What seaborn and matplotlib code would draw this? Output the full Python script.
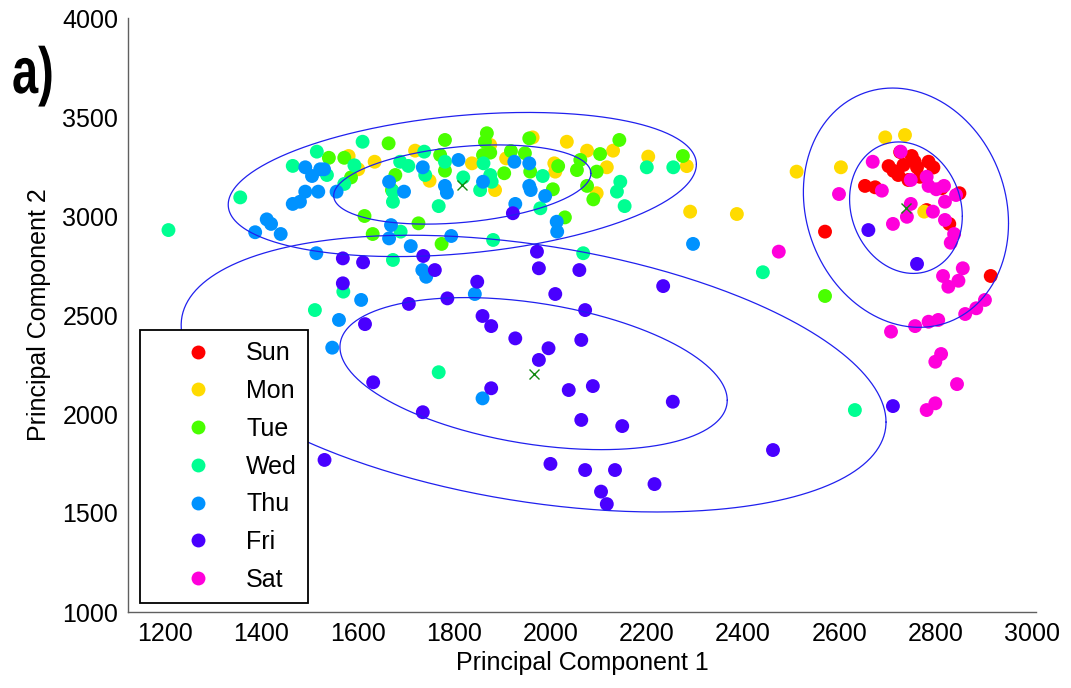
import numpy as np
import pandas as pd
import matplotlib
matplotlib.use("Agg")
import matplotlib.pyplot as plt
from matplotlib.lines import Line2D
from matplotlib import patheffects
from matplotlib.transforms import Affine2D
import seaborn as sns

# ---------------- data ----------------
days = ["Sun", "Mon", "Tue", "Wed", "Thu", "Fri", "Sat"]

sun_pc1 = [2702, 2722, 2750, 2785, 2761, 2733, 2767, 2743, 2726, 2712, 2795, 2756,
           2653, 2674, 2849, 2828, 2570, 2914, 2781, 2812]
sun_pc2 = [3252, 3207, 3303, 3274, 3246, 3258, 3198, 3182, 3323, 3228, 3245, 3275,
           3152, 3145, 3115, 2960, 2921, 2697, 3030, 3140]

mon_pc1 = [1581, 1601, 1635, 1719, 1749, 1837, 1875, 1885, 1908, 1963, 2008, 2010, 2034,
           2076, 2117, 2130, 2096, 2203, 2283, 2290, 2387, 2511, 2603, 2695, 2736, 2776]
mon_pc2 = [3303, 3236, 3274, 3330, 3178, 3266, 3359, 3131, 3291, 3397, 3266, 3224, 3375,
           3330, 3246, 3330, 3115, 3300, 3252, 3022, 3010, 3224, 3246, 3397, 3409, 3022]

tue_pc1 = [1540, 1572, 1586, 1664, 1678, 1671, 1781, 1771, 1781, 1868, 1864, 1860, 1875,
           1904, 1918, 1947, 1956, 1958, 2016, 2005, 2055, 2062, 2096, 2103, 2076, 2089,
           2143, 2275, 1614, 2030, 1631, 1726, 1774, 2570]
tue_pc2 = [3294, 3294, 3195, 3367, 3207, 3131, 3384, 3308, 3229, 3418, 3375, 3308, 3320,
           3216, 3328, 3317, 3392, 3224, 3252, 3135, 3232, 3283, 3224, 3313, 3152, 3084,
           3384, 3303, 3000, 2993, 2909, 2963, 2859, 2596]

wed_pc1 = [1356, 1465, 1515, 1610, 1536, 1572, 1593, 1688, 1705, 1738, 1740, 1781, 1673,
           1673, 1768, 1819, 1854, 1861, 1875, 1878, 1984, 1979, 2145, 2138, 2154, 2200,
           2255, 2441, 1207, 1689, 1881, 1673, 2068, 1570, 1511, 1768, 2632]
wed_pc2 = [3094, 3253, 3325, 3375, 3207, 3162, 3256, 3274, 3253, 3325, 3207, 3274, 3072,
           3123, 3050, 3195, 3131, 3266, 3207, 3173, 3202, 3039, 3173, 3123, 3050, 3246,
           3246, 2716, 2929, 2921, 2879, 2778, 2812, 2618, 2525, 2211, 2020]

thu_pc1 = [1465, 1480, 1491, 1518, 1491, 1505, 1522, 1530, 1556, 1665, 1696, 1735, 1809,
           1781, 1785, 1860, 1925, 1956, 1956, 1959, 1989, 1927, 1411, 1387, 1420, 1440,
           1514, 1665, 1669, 1710, 1794, 1734, 1742, 1843, 1607, 1561, 1547, 1859, 2014,
           2013, 2296]
thu_pc2 = [3061, 3072, 3123, 3123, 3246, 3202, 3236, 3236, 3123, 3173, 3123, 3246, 3283,
           3152, 3118, 3173, 3274, 3266, 3152, 3131, 3101, 3061, 2983, 2918, 2960, 2909,
           2812, 2887, 2954, 2848, 2899, 2727, 2693, 2606, 2576, 2475, 2335, 2079, 2921,
           2971, 2859]

fri_pc1 = [1922, 1569, 1611, 1736, 1760, 1569, 1972, 1976, 2060, 1848, 2010, 2234, 1706,
           1786, 1615, 1859, 1877, 1927, 2072, 2064, 1996, 1976, 1632, 1877, 2038, 2088,
           2254, 2064, 2149, 1735, 1531, 2000, 2072, 2134, 2216, 2105, 2117, 2462, 2711,
           2660, 2761]
fri_pc2 = [3014, 2786, 2766, 2798, 2727, 2660, 2820, 2736, 2727, 2668, 2606, 2646, 2556,
           2584, 2454, 2495, 2444, 2382, 2525, 2374, 2332, 2273, 2160, 2130, 2121, 2141,
           2062, 1970, 1939, 2009, 1768, 1748, 1717, 1717, 1646, 1608, 1545, 1818, 2040,
           2929, 2758]

sat_pc1 = [2669, 2727, 2599, 2474, 2688, 2748, 2781, 2785, 2801, 2817, 2842, 2819, 2748,
           2740, 2711, 2794, 2819, 2838, 2831, 2815, 2856, 2847, 2826, 2902, 2884, 2861,
           2805, 2785, 2757, 2707, 2811, 2799, 2844, 2799, 2781]
sat_pc2 = [3274, 3325, 3111, 2820, 3128, 3182, 3198, 3152, 3135, 3152, 3106, 3072, 3061,
           2996, 2960, 3022, 2980, 2909, 2865, 2697, 2736, 2673, 2643, 2576, 2534, 2505,
           2475, 2466, 2444, 2416, 2303, 2264, 2151, 2054, 2020]

# cluster ellipses (centre, std-like half axes, correlation) and drawn scales
ell_cx = [1817, 1965, 2738]
ell_cy = [3159, 2204, 3042]
ell_sx = [267, 402, 117]
ell_sy = [200, 384, 332]
ell_rho = [0.28, -0.35, -0.13]
ell_scales = [1.0, 1.82]

x_ticks = [1200, 1400, 1600, 1800, 2000, 2200, 2400, 2600, 2800, 3000]
y_ticks = [1000, 1500, 2000, 2500, 3000, 3500, 4000]

# ---------------- frame ----------------
pc1_all = [sun_pc1, mon_pc1, tue_pc1, wed_pc1, thu_pc1, fri_pc1, sat_pc1]
pc2_all = [sun_pc2, mon_pc2, tue_pc2, wed_pc2, thu_pc2, fri_pc2, sat_pc2]
df = pd.concat([pd.DataFrame({"PC1": a, "PC2": b, "Day": d})
                for a, b, d in zip(pc1_all, pc2_all, days)], ignore_index=True)

sns.set_style("white")
plt.rcParams["font.family"] = ["Liberation Sans", "DejaVu Sans"]
plt.rcParams["text.color"] = "black"
plt.rcParams["axes.labelcolor"] = "black"
plt.rcParams["xtick.color"] = "black"
plt.rcParams["ytick.color"] = "black"

palette = [matplotlib.colors.hsv_to_rgb((i / 7.0, 1.0, 1.0)) for i in range(7)]
pal = dict(zip(days, palette))

fig = plt.figure(figsize=(10.71, 6.88), dpi=100)
ax = fig.add_axes([128 / 1071, 76 / 688, 908 / 1071, 594 / 688])

sns.scatterplot(data=df, x="PC1", y="PC2", hue="Day", hue_order=days, palette=pal,
                s=100, linewidth=0, alpha=1, legend=False, ax=ax, zorder=2)

t = np.linspace(0, 2 * np.pi, 400)
for cx, cy, sx, sy, r in zip(ell_cx, ell_cy, ell_sx, ell_sy, ell_rho):
    for k in ell_scales:
        ex = cx + k * sx * np.cos(t)
        ey = cy + k * sy * (r * np.cos(t) + np.sqrt(1 - r * r) * np.sin(t))
        ax.plot(ex, ey, color="#2020ee", lw=0.9, zorder=3)
ax.plot(ell_cx, ell_cy, linestyle="none", marker="x", color="#108a10",
        markersize=7, markeredgewidth=1.0, zorder=4)

ax.set_xlim(1123, 3008)
ax.set_ylim(1000, 4000)
ax.set_xticks(x_ticks)
ax.set_yticks(y_ticks)
ax.tick_params(direction="in", length=6, width=1, labelsize=18, color="black",
               labelcolor="black")
ax.tick_params(axis="x", pad=7)
ax.tick_params(axis="y", pad=7)
for s in ["top", "right"]:
    ax.spines[s].set_visible(False)
for s in ["left", "bottom"]:
    ax.spines[s].set_color("#606060")
    ax.spines[s].set_linewidth(1.0)

ax.set_xlabel("Principal Component 1", fontsize=18, labelpad=4, color="black")
ax.set_ylabel("Principal Component 2", fontsize=18, labelpad=8, color="black")

handles = [Line2D([], [], linestyle="none", marker="o", markersize=10,
                  markerfacecolor=pal[d], markeredgewidth=0) for d in days]
leg = ax.legend(handles, days, loc="upper left",
                bbox_to_anchor=(12 / 908, (612 - 330) / 594), borderaxespad=0,
                fontsize=18, frameon=True, fancybox=False, framealpha=1,
                edgecolor="black", borderpad=0.45, labelspacing=0.55,
                handlelength=3.7, handletextpad=0.1, labelcolor="black")
leg.get_frame().set_linewidth(1.3)
leg.set_zorder(10)


class Squeeze(patheffects.AbstractPathEffect):
    """Draw text horizontally condensed (the text stays a Text artist)."""

    def __init__(self, sx):
        super().__init__()
        self.sx = sx

    def draw_path(self, renderer, gc, tpath, affine, rgbFace=None):
        m = affine.get_matrix().copy()
        m[0, 0] *= self.sx
        m[0, 1] *= self.sx
        renderer.draw_path(gc, tpath, Affine2D(m), rgbFace)


fig.text(12 / 1071, (688 - 93) / 688, "a)", fontsize=47, fontweight="bold",
         va="baseline", color="black", path_effects=[Squeeze(0.72)])

fig.savefig("out.png", dpi=100, facecolor="white")
